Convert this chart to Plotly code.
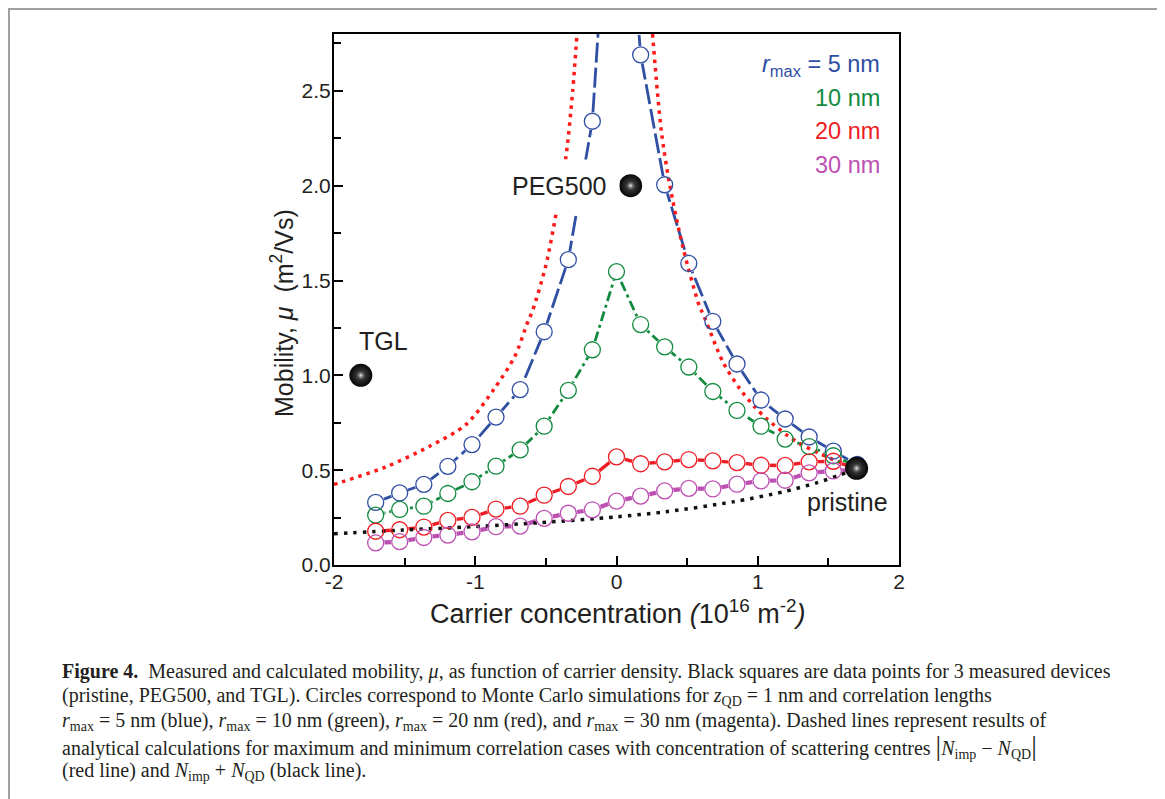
import plotly.graph_objects as go

# ---------------- data ----------------
carrier = [-1.705, -1.535, -1.364, -1.194, -1.023, -0.853, -0.682, -0.512, -0.341, -0.171,
           0.0, 0.171, 0.341, 0.512, 0.682, 0.853, 1.023, 1.194, 1.364, 1.535, 1.705]

mu_r5 = [0.33, 0.38, 0.425, 0.52, 0.635, 0.78, 0.925, 1.23, 1.61, 2.34,
         4.3, 2.69, 2.005, 1.59, 1.285, 1.06, 0.87, 0.77, 0.675, 0.60, 0.53]
mu_r10 = [0.263, 0.293, 0.31, 0.377, 0.439, 0.521, 0.607, 0.732, 0.921, 1.135,
          1.547, 1.268, 1.15, 1.044, 0.915, 0.815, 0.732, 0.664, 0.624, 0.576, 0.52]
mu_r20 = [0.178, 0.186, 0.20, 0.235, 0.251, 0.295, 0.31, 0.368, 0.414, 0.468,
          0.570, 0.534, 0.544, 0.556, 0.549, 0.540, 0.526, 0.525, 0.544, 0.547, 0.51]
mu_r30 = [0.117, 0.123, 0.145, 0.158, 0.175, 0.202, 0.205, 0.246, 0.273, 0.291,
          0.337, 0.363, 0.391, 0.404, 0.401, 0.426, 0.444, 0.447, 0.486, 0.496, 0.50]

series_labels = ["5 nm", "10 nm", "20 nm", "30 nm"]

# analytical |N_imp - N_QD| (red dotted), two branches
diff_left_x = [-2.0, -1.965, -1.633, -1.326, -1.066, -0.865, -0.72, -0.629, -0.594, -0.50,
               -0.428, -0.357, -0.31, -0.28]
diff_left_y = [0.425, 0.433, 0.517, 0.625, 0.74, 0.93, 1.10, 1.28, 1.342, 1.58,
               1.851, 2.158, 2.5, 2.8]
diff_right_x = [0.255, 0.317, 0.376, 0.47, 0.589, 0.612, 0.754, 0.872, 0.979, 1.061,
                1.208, 1.298, 1.428, 1.534, 1.62]
diff_right_y = [2.8, 2.29, 2.009, 1.675, 1.36, 1.325, 1.07, 0.93, 0.833, 0.772,
                0.684, 0.64, 0.591, 0.556, 0.53]

# analytical N_imp + N_QD (black dotted)
sum_x = [-2.0, -1.516, -1.019, -0.546, 0.0, 0.352, 0.825, 1.18, 1.416, 1.58, 1.68]
sum_y = [0.165, 0.184, 0.202, 0.223, 0.254, 0.281, 0.333, 0.386, 0.433, 0.474, 0.50]

# measured devices
devices = ["TGL", "PEG500", "pristine"]
dev_x = [-1.81, 0.10, 1.70]
dev_y = [1.0, 2.0, 0.51]

x_ticks = [-2, -1, 0, 1, 2]
x_ticklabels = ["-2", "-1", "0", "1", "2"]
y_ticks = [0.0, 0.5, 1.0, 1.5, 2.0, 2.5]

# ---------------- style ----------------
BLUE = "#2f4fa3"
GREEN = "#128a3f"
RED = "#ee1c24"
MAGENTA = "#bd4fb3"
series = [
    (mu_r5, BLUE, "20px,5px", 2.8),
    (mu_r10, GREEN, "10px,4px,3px,4px", 2.8),
    (mu_r20, RED, "solid", 3.4),
    (mu_r30, MAGENTA, "solid", 4.2),
]

OFF = 8  # page body margin offset
W, H = 1165 - OFF, 799 - OFF
L, R, T, B = 334 - OFF, 899 - OFF, 34 - OFF, 565 - OFF


def px_x(p):
    return (p - OFF - L) / (R - L)


def px_y(p):
    return (B - (p - OFF)) / (B - T)


fig = go.Figure()

# vertical reference line at zero carrier concentration
fig.add_vline(x=0, line=dict(color="black", width=2), layer="below")

# connecting lines
for ys, col, dash, w in series:
    fig.add_trace(go.Scatter(x=carrier, y=ys, mode="lines",
                             line=dict(color=col, width=w, dash=dash),
                             hoverinfo="skip"))
# white knock-outs behind the symbols (line gaps)
for ys, col, dash, w in series:
    fig.add_trace(go.Scatter(x=carrier, y=ys, mode="markers",
                             marker=dict(size=18, color="white", line=dict(width=0)),
                             hoverinfo="skip"))

# analytical curves
for xs, ys in [(diff_left_x, diff_left_y), (diff_right_x, diff_right_y)]:
    fig.add_trace(go.Scatter(x=xs, y=ys, mode="lines",
                             line=dict(color="#ff1a1a", width=3.5, dash="3.5px,5px",
                                       shape="spline", smoothing=0.8)))
fig.add_trace(go.Scatter(x=sum_x, y=sum_y, mode="lines",
                         line=dict(color="#111111", width=3.5, dash="3.5px,6px",
                                   shape="spline", smoothing=0.8)))

# open circles
for ys, col, dash, w in series:
    fig.add_trace(go.Scatter(x=carrier, y=ys, mode="markers",
                             marker=dict(symbol="circle-open", size=16, color=col,
                                         line=dict(width=1.3, color=col))))

# measured devices: dark spheres
fig.add_trace(go.Scatter(x=dev_x, y=dev_y, mode="markers",
                         marker=dict(size=23, color="#050505",
                                     gradient=dict(type="radial", color="#505050"),
                                     line=dict(width=0))))
fig.add_trace(go.Scatter(x=dev_x, y=dev_y, mode="markers",
                         marker=dict(size=11, color="rgba(40,40,40,0)",
                                     gradient=dict(type="radial", color="#f0f0f0"),
                                     line=dict(width=0))))

SANS = "Liberation Sans, Arial, sans-serif"
TXT = "#231f20"

ann = []
# device labels
ann.append(dict(x=dev_x[0], y=dev_y[0], text=devices[0], showarrow=False,
                xshift=23, yshift=34, font=dict(family=SANS, size=25, color=TXT)))
ann.append(dict(x=dev_x[1], y=dev_y[1], text=devices[1], showarrow=False,
                xanchor="right", xshift=-11, bgcolor="white", borderpad=12,
                font=dict(family=SANS, size=25, color=TXT)))
ann.append(dict(x=dev_x[2], y=dev_y[2], text=devices[2], showarrow=False,
                xshift=-9, yshift=-34, font=dict(family=SANS, size=25, color=TXT)))

# r_max legend text
leg_cols = [BLUE, GREEN, RED, MAGENTA]
leg_y = [65, 98, 131, 165]
for i, (lab, col) in enumerate(zip(series_labels, leg_cols)):
    txt = ("<i>r</i><sub>max</sub> = " + lab) if i == 0 else lab
    ann.append(dict(xref="paper", yref="paper", x=px_x(882), y=px_y(leg_y[i]),
                    xanchor="right", yanchor="middle", text=txt, showarrow=False,
                    font=dict(family=SANS, size=23.5, color=col)))

# axis titles
ann.append(dict(xref="paper", yref="paper", x=px_x(617), y=px_y(612),
                xanchor="center", yanchor="middle", showarrow=False,
                text="Carrier concentration <i>(</i>10<sup>16</sup> m<sup>-2</sup><i>)</i>",
                font=dict(family=SANS, size=27, color=TXT)))
ann.append(dict(xref="paper", yref="paper", x=px_x(282), y=px_y(313),
                xanchor="center", yanchor="middle", showarrow=False, textangle=-90,
                text="Mobility, <i>μ</i>  (m<sup>2</sup>/Vs)",
                font=dict(family=SANS, size=25, color=TXT)))

# caption
SERIF = "Liberation Serif, Times New Roman, serif"
cap = [
    "<b>Figure 4.</b>  Measured and calculated mobility, <i>μ</i>, as function of carrier density. "
    "Black squares are data points for 3 measured devices",
    "(pristine, PEG500, and TGL). Circles correspond to Monte Carlo simulations for "
    "<i>z</i><sub>QD</sub> = 1 nm and correlation lengths",
    "<i>r</i><sub>max</sub> = 5 nm (blue), <i>r</i><sub>max</sub> = 10 nm (green), "
    "<i>r</i><sub>max</sub> = 20 nm (red), and <i>r</i><sub>max</sub> = 30 nm (magenta). "
    "Dashed lines represent results of",
    "analytical calculations for maximum and minimum correlation cases with concentration of "
    "scattering centres <span style=\"font-size:28px\">|</span><i>N</i><sub>imp</sub> − "
    "<i>N</i><sub>QD</sub><span style=\"font-size:28px\">|</span>",
    "(red line) and <i>N</i><sub>imp</sub> + <i>N</i><sub>QD</sub> (black line).",
]
cap_y = [671, 696, 721, 746, 771]
for line, yy in zip(cap, cap_y):
    ann.append(dict(xref="paper", yref="paper", x=px_x(60), y=px_y(yy),
                    xanchor="left", yanchor="middle", showarrow=False, text=line,
                    font=dict(family=SERIF, size=20, color=TXT)))

fig.update_layout(
    width=W, height=H,
    margin=dict(l=L, r=W - R, t=T, b=H - B),
    paper_bgcolor="white", plot_bgcolor="white",
    showlegend=False,
    annotations=ann,
    shapes=[dict(type="rect", xref="paper", yref="paper",
                 x0=px_x(9), x1=px_x(1161), y0=px_y(830), y1=px_y(9),
                 line=dict(color="#a0a0a0", width=2), fillcolor="rgba(0,0,0,0)")],
)
fig.update_xaxes(range=[-2, 2], tickvals=x_ticks, ticktext=x_ticklabels,
                 ticks="inside", ticklen=9, tickwidth=2, tickcolor="black",
                 ticklabelstandoff=-3,
                 showline=True, linewidth=2, linecolor="black", mirror=True,
                 showgrid=False, zeroline=False,
                 tickfont=dict(family=SANS, size=21, color=TXT),
                 minor=dict(dtick=0.5, ticks="inside", ticklen=7, tickwidth=2,
                            tickcolor="black", showgrid=False))
fig.update_yaxes(range=[0, 2.8], tickvals=y_ticks, tickformat=".1f",
                 ticks="inside", ticklen=9, tickwidth=2, tickcolor="black",
                 ticklabelstandoff=-3,
                 showline=True, linewidth=2, linecolor="black", mirror=True,
                 showgrid=False, zeroline=False,
                 tickfont=dict(family=SANS, size=21, color=TXT),
                 minor=dict(dtick=0.25, ticks="inside", ticklen=7, tickwidth=2,
                            tickcolor="black", showgrid=False))

fig.write_html("out.html")
